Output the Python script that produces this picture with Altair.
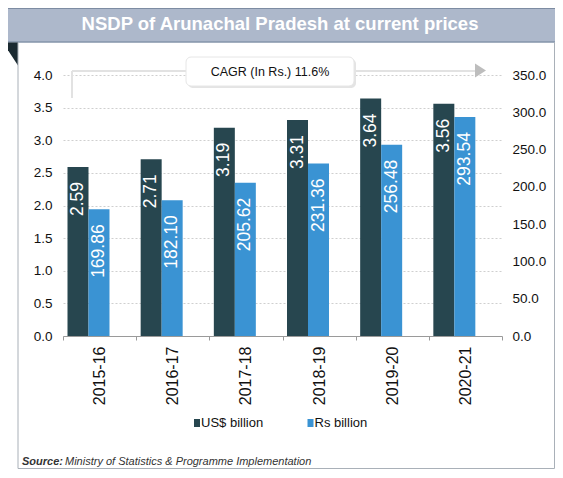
import altair as alt
import pandas as pd

years = ["2015-16", "2016-17", "2017-18", "2018-19", "2019-20", "2020-21"]
usd_billion = [2.59, 2.71, 3.19, 3.31, 3.64, 3.56]
rs_billion = [169.86, 182.10, 205.62, 231.36, 256.48, 293.54]
series_names = ["US$ billion", "Rs billion"]
series_colors = ["#27464f", "#3a93d3"]
left_ticks = [0.0, 0.5, 1.0, 1.5, 2.0, 2.5, 3.0, 3.5, 4.0]
right_ticks = [0, 50, 100, 150, 200, 250, 300, 350]
title_text = "NSDP of Arunachal Pradesh at current prices"
cagr_text = "CAGR (In Rs.) 11.6%"
source_label = "Source:"
source_text = "Ministry of Statistics & Programme Implementation"

FONT = "Liberation Sans, Arial"

usd_df = pd.DataFrame({"year": years, "series": series_names[0], "value": usd_billion})
rs_df = pd.DataFrame({"year": years, "series": series_names[1], "value": rs_billion})

x_axis = alt.Axis(title=None, labelAngle=270, labelFont=FONT, labelFontSize=16,
                  labelColor="#111", labelPadding=6, tickSize=4, tickColor="#9a9a9a",
                  domainColor="#9a9a9a", tickBand="extent", grid=False)
x_enc = alt.X("year:N", sort=years, scale=alt.Scale(paddingInner=0, paddingOuter=0), axis=x_axis)
xoff_enc = alt.XOffset("series:N", sort=series_names,
                       scale=alt.Scale(domain=series_names, range=[4.5, 46.5],
                                       paddingInner=0, paddingOuter=0))
color_enc = alt.Color("series:N", scale=alt.Scale(domain=series_names, range=series_colors), legend=None)

left_axis = alt.Axis(title=None, values=left_ticks, format=".1f", grid=True, gridDash=[2, 2],
                     gridColor="#cfcfcf", ticks=False, domain=False, labelPadding=11,
                     labelFont=FONT, labelFontSize=13.5, labelColor="#111")
right_axis = alt.Axis(title=None, orient="right", values=right_ticks, format=".1f", grid=False,
                      ticks=False, domain=False, labelPadding=10,
                      labelFont=FONT, labelFontSize=13.5, labelColor="#111")
y_left = alt.Y("value:Q", scale=alt.Scale(domain=[0, 4]), axis=left_axis)
y_right = alt.Y("value:Q", scale=alt.Scale(domain=[0, 350]), axis=right_axis)

text_props = dict(angle=270, align="right", baseline="middle", dx=-15, color="white",
                  fontSize=17.5, font=FONT)

usd_layer = alt.layer(
    alt.Chart(usd_df).mark_bar().encode(x=x_enc, xOffset=xoff_enc, y=y_left, color=color_enc),
    alt.Chart(usd_df).mark_text(**text_props).encode(
        x=x_enc, xOffset=xoff_enc, y=y_left, text=alt.Text("value:Q", format=".2f")),
)
rs_layer = alt.layer(
    alt.Chart(rs_df).mark_bar().encode(x=x_enc, xOffset=xoff_enc, y=y_right, color=color_enc),
    alt.Chart(rs_df).mark_text(**text_props).encode(
        x=x_enc, xOffset=xoff_enc, y=y_right, text=alt.Text("value:Q", format=".2f")),
)

one = pd.DataFrame({"a": [0]})


def box(x1, x2, y1, y2, **kw):
    return alt.Chart(one).mark_rect(**kw).encode(
        x=alt.value(x1), x2=alt.value(x2), y=alt.value(y1), y2=alt.value(y2))


def rule(x1, x2, y1, y2, **kw):
    return alt.Chart(one).mark_rule(**kw).encode(
        x=alt.value(x1), x2=alt.value(x2), y=alt.value(y1), y2=alt.value(y2))


def label(txt, x, y, **kw):
    return alt.Chart(one).mark_text(text=txt, **kw).encode(x=alt.value(x), y=alt.value(y))


R = 491.5  # right frame edge (view coords)

deco = [
    # title bar
    box(-55, R + 0.5, -67, -33, color="#adb8cb"),
    rule(-55, R + 0.5, -66.5, -66.5, color="#7d8ca2", strokeWidth=1),
    rule(-55, R + 0.5, -33, -33, color="#8595aa", strokeWidth=1.5),
    label(title_text, 217, -45.5, font=FONT, fontSize=18.5, fontWeight="bold",
          color="white", align="center", baseline="alphabetic"),
    # corner triangle
    alt.Chart(one).mark_point(shape="M -15 0 L 0 0 L 0 23 Z", size=4, filled=True,
                              color="#1b2a31", opacity=1, strokeWidth=0).encode(
        x=alt.value(-45), y=alt.value(-32.5)),
    # frame
    rule(-45, -45, -32.5, 393.5, color="#a9b0b8", strokeWidth=1),
    rule(-45, R, 393.5, 393.5, color="#a9b0b8", strokeWidth=1),
    rule(R, R, -32.5, 393.5, color="#a9b0b8", strokeWidth=1),
    # CAGR arrow
    rule(9, 9, -4, 23, color="#e2e2e2", strokeWidth=2),
    rule(9, 412, -4, -4, color="#e2e2e2", strokeWidth=2),
    alt.Chart(one).mark_point(shape="M 0 -7 L 11 0 L 0 7 Z", size=4, filled=True,
                              color="#bdbdbd", opacity=1, strokeWidth=0).encode(
        x=alt.value(412), y=alt.value(-4.5)),
    box(125, 293, -16, 13, color="#e4e4e4", cornerRadius=5),
    box(123, 291, -18, 11, color="white", cornerRadius=5, stroke="#e6e6e6", strokeWidth=1),
    label(cagr_text, 207, -3.5, font=FONT, fontSize=12.5, color="#111",
          align="center", baseline="middle"),
    # legend
    box(131, 137, 344, 352, color=series_colors[0]),
    label(series_names[0], 138, 348, font=FONT, fontSize=13, color="#111",
          align="left", baseline="middle"),
    box(244.5, 250.5, 344, 352, color=series_colors[1]),
    label(series_names[1], 251.5, 348, font=FONT, fontSize=13, color="#111",
          align="left", baseline="middle"),
    # source
    label(source_label, -41, 386.5, font=FONT, fontSize=11, fontWeight="bold",
          fontStyle="italic", color="#333", align="left", baseline="middle"),
    label(source_text, 2, 386.5, font=FONT, fontSize=11, fontStyle="italic",
          color="#333", align="left", baseline="middle"),
]

chart = alt.layer(usd_layer, rs_layer, *deco).resolve_scale(y="independent").properties(
    width=439, height=261,
    padding={"left": 55, "top": 67, "right": 53, "bottom": 133},
    autosize=alt.AutoSizeParams(type="none"),
    background="white",
).configure_view(stroke=None)

chart.save("out.html", embed_options={"renderer": "svg", "actions": False})
